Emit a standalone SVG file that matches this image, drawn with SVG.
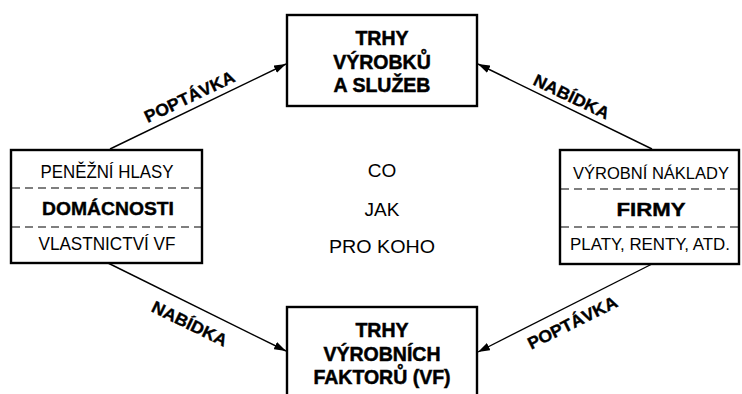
<svg xmlns="http://www.w3.org/2000/svg" width="742" height="394" viewBox="0 0 742 394">
<defs>
<style>
.box{fill:#fff;stroke:#000;stroke-width:2.4}
.dash{stroke:#000;stroke-width:1.1;stroke-dasharray:8 5}
.t{font-family:"Liberation Sans",Arial,sans-serif;font-size:18.5px;fill:#000;text-anchor:middle}
.s{font-size:16.5px}
.b{font-weight:bold;stroke:#000;stroke-width:0.4}
.h{font-family:"Liberation Sans",Arial,sans-serif;font-size:19.5px;font-weight:bold;fill:#000;stroke:#000;stroke-width:0.5;text-anchor:middle}
.c{font-family:"Liberation Sans",Arial,sans-serif;font-size:19px;fill:#000;text-anchor:middle}
.lbl{font-family:"Liberation Sans",Arial,sans-serif;font-size:17px;font-weight:bold;fill:#000;stroke:#000;stroke-width:0.35;text-anchor:middle}
.edge{stroke:#000;stroke-width:1.4;fill:none;marker-end:url(#ah)}
</style>
<marker id="ah" viewBox="0 0 12 8" refX="12" refY="4" markerWidth="12" markerHeight="8" markerUnits="userSpaceOnUse" orient="auto">
<path d="M0,0 L12,4 L0,8 Z" fill="#000"/>
</marker>
</defs>
<rect width="742" height="394" fill="#fff"/>
<g id="connectors">
<line class="edge" x1="110" y1="149" x2="286" y2="64"/>
<line class="edge" x1="652" y1="149" x2="478" y2="64"/>
<line class="edge" x1="108" y1="263" x2="286" y2="351"/>
<line class="edge" x1="652" y1="264" x2="478" y2="352"/>
<text class="lbl" transform="translate(192,102) rotate(-25.5)" textLength="98" lengthAdjust="spacingAndGlyphs">POPTÁVKA</text>
<text class="lbl" transform="translate(569,102) rotate(25.6)" textLength="82" lengthAdjust="spacingAndGlyphs">NABÍDKA</text>
<text class="lbl" transform="translate(187,329) rotate(25.9)" textLength="82" lengthAdjust="spacingAndGlyphs">NABÍDKA</text>
<text class="lbl" transform="translate(575,328) rotate(-26.5)" textLength="98" lengthAdjust="spacingAndGlyphs">POPTÁVKA</text>
</g>
<g id="trhy-vyrobku">
<rect class="box" x="287" y="15" width="190" height="91"/>
<text class="h" x="382" y="45">TRHY</text>
<text class="h" x="382" y="68.5">VÝROBKŮ</text>
<text class="h" x="382" y="92">A SLUŽEB</text>
</g>
<g id="trhy-vf">
<rect class="box" x="287" y="307" width="190" height="100"/>
<text class="h" x="382" y="337">TRHY</text>
<text class="h" x="382" y="360.5">VÝROBNÍCH</text>
<text class="h" x="382" y="384">FAKTORŮ (VF)</text>
</g>
<g id="domacnosti">
<rect class="box" x="11" y="150" width="191" height="113"/>
<line class="dash" x1="12" y1="188" x2="201" y2="188"/>
<line class="dash" x1="12" y1="227" x2="201" y2="227"/>
<text class="t" x="107" y="178" textLength="133" lengthAdjust="spacingAndGlyphs">PENĚŽNÍ HLASY</text>
<text class="t b" x="108" y="215" textLength="132" lengthAdjust="spacingAndGlyphs">DOMÁCNOSTI</text>
<text class="t" x="107" y="250" textLength="137" lengthAdjust="spacingAndGlyphs">VLASTNICTVÍ VF</text>
</g>
<g id="firmy">
<rect class="box" x="560" y="150" width="179" height="114"/>
<line class="dash" x1="561" y1="189" x2="738" y2="189"/>
<line class="dash" x1="561" y1="227" x2="738" y2="227"/>
<text class="t s" x="651" y="179" textLength="156" lengthAdjust="spacingAndGlyphs">VÝROBNÍ NÁKLADY</text>
<text class="t b" x="651" y="216" textLength="69" lengthAdjust="spacingAndGlyphs">FIRMY</text>
<text class="t s" x="650" y="250" textLength="160" lengthAdjust="spacingAndGlyphs">PLATY, RENTY, ATD.</text>
</g>
<g id="center">
<text class="c" x="382" y="177">CO</text>
<text class="c" x="382" y="216">JAK</text>
<text class="c" x="382" y="253" textLength="106" lengthAdjust="spacingAndGlyphs">PRO KOHO</text>
</g>
</svg>
